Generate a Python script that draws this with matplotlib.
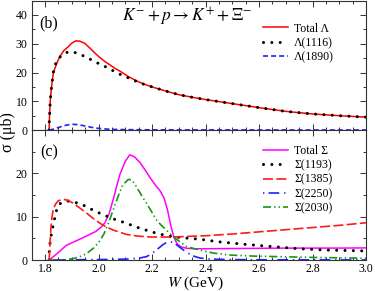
import matplotlib
matplotlib.use("Agg")
import matplotlib.pyplot as plt
from matplotlib.ticker import MultipleLocator

plt.rcParams['font.family'] = ['Liberation Serif', 'DejaVu Serif']
plt.rcParams['mathtext.fontset'] = 'stix'
plt.rcParams['lines.scale_dashes'] = False

# ---- panel (b): Lambda exchange ----
lam_tot_w = [1.815, 1.8165, 1.818, 1.82, 1.823, 1.827, 1.831, 1.837, 1.845, 1.855, 1.87,
             1.887, 1.90, 1.915, 1.93, 1.949, 1.97, 1.987, 2.005, 2.024, 2.045, 2.061,
             2.085, 2.111, 2.14, 2.169, 2.2, 2.25, 2.3, 2.35, 2.4, 2.5, 2.6, 2.7, 2.8, 2.9, 3.0]
lam_tot = [0, 4.4, 7.6, 10.8, 13.9, 17.1, 19.8, 21.5, 23.5, 25.5, 27.6,
           29.0, 30.2, 31.0, 30.9, 30.1, 28.3, 26.7, 25.2, 23.8, 22.5, 21.5,
           20.2, 18.6, 17.2, 16.0, 15.0, 13.6, 12.3, 11.4, 10.6, 9.2, 7.8, 6.5, 5.6, 5.0, 4.5]

lam1116_w = [1.815, 1.8165, 1.818, 1.82, 1.823, 1.827, 1.831, 1.837, 1.845, 1.86, 1.875,
             1.89, 1.905, 1.925, 1.955, 1.987, 2.018, 2.049, 2.077, 2.11, 2.14, 2.17,
             2.2, 2.25, 2.3, 2.35, 2.4, 2.5, 2.6, 2.7, 2.8, 2.9, 3.0]
lam1116 = [0, 4.4, 7.6, 10.8, 13.9, 17.1, 20.1, 22.5, 24.2, 25.8, 26.8,
           27.2, 27.1, 26.6, 25.3, 23.7, 22.4, 20.9, 19.5, 18.2, 17.0, 15.9,
           15.0, 13.6, 12.3, 11.4, 10.6, 9.2, 7.8, 6.5, 5.6, 5.0, 4.5]

lam1890_w = [1.815, 1.83, 1.85, 1.87, 1.89, 1.905, 1.92, 1.94, 1.96, 1.98, 2.0,
             2.03, 2.06, 2.1, 2.2, 2.4, 2.6, 2.8, 3.0]
lam1890 = [0, 0.3, 0.9, 1.5, 1.9, 2.0, 1.9, 1.6, 1.2, 0.85, 0.6,
           0.35, 0.22, 0.15, 0.08, 0.05, 0.04, 0.03, 0.03]

# ---- panel (c): Sigma exchange ----
sig_tot_w = [1.815, 1.83, 1.845, 1.88, 1.94, 1.99, 2.01, 2.024, 2.04, 2.055, 2.067, 2.08,
             2.10, 2.117, 2.135, 2.155, 2.175, 2.195, 2.215, 2.23, 2.245, 2.258, 2.27,
             2.282, 2.295, 2.31, 2.33, 2.36, 2.4, 2.5, 2.6, 2.7, 2.8, 2.9, 3.0]
sig_tot = [0, 0.7, 1.5, 3.4, 5.1, 6.6, 7.6, 8.6, 10.8, 14.0, 16.9, 19.8,
           22.8, 24.3, 23.8, 22.5, 20.7, 18.8, 17.1, 16.0, 14.3, 11.5, 8.0,
           5.2, 3.6, 3.0, 2.7, 2.6, 2.6, 2.65, 2.7, 2.75, 2.75, 2.75, 2.8]

sig1193_w = [1.815, 1.816, 1.821, 1.827, 1.834, 1.84, 1.853, 1.87, 1.887, 1.918, 1.949,
             1.98, 2.012, 2.043, 2.073, 2.105, 2.136, 2.167, 2.198, 2.235, 2.266, 2.304,
             2.341, 2.378, 2.45, 2.55, 2.65, 2.75, 2.85, 3.0]
sig1193 = [0, 2.7, 5.0, 7.1, 9.0, 11.0, 12.9, 13.5, 13.6, 13.2, 12.5,
           11.5, 10.6, 9.8, 9.1, 8.5, 7.7, 7.1, 6.5, 5.9, 5.5, 5.2,
           5.0, 4.8, 4.2, 3.6, 3.1, 2.6, 2.3, 2.1]

sig1385_w = [1.815, 1.817, 1.819, 1.822, 1.826, 1.831, 1.84, 1.85, 1.868, 1.885, 1.906,
             1.93, 1.956, 1.98, 2.005, 2.03, 2.055, 2.105, 2.15, 2.2, 2.25, 2.3, 2.35,
             2.4, 2.5, 2.6, 2.7, 2.8, 2.9, 3.0]
sig1385 = [0, 2.0, 4.5, 7.5, 10.0, 11.8, 13.0, 13.7, 14.0, 13.8, 13.1,
           12.0, 10.8, 9.6, 8.5, 7.6, 6.9, 5.9, 5.5, 5.3, 5.3, 5.35, 5.5,
           5.6, 6.0, 6.5, 7.0, 7.5, 8.0, 8.6]

sig2250_w = [1.815, 1.9, 2.0, 2.1, 2.15, 2.18, 2.2, 2.22, 2.24, 2.255, 2.27, 2.285,
             2.30, 2.32, 2.34, 2.36, 2.38, 2.42, 2.5, 2.6, 2.8, 3.0]
sig2250 = [0, 0.05, 0.1, 0.2, 0.4, 0.8, 1.5, 2.5, 3.5, 4.1, 4.2, 3.9,
           3.1, 2.2, 1.4, 0.8, 0.45, 0.2, 0.1, 0.05, 0.03, 0.02]

sig2030_w = [1.815, 1.88, 1.91, 1.935, 1.956, 1.98, 2.0, 2.02, 2.04, 2.06, 2.075,
             2.09, 2.111, 2.125, 2.142, 2.16, 2.179, 2.2, 2.217, 2.235, 2.254, 2.279,
             2.3, 2.329, 2.378, 2.43, 2.49, 2.58, 2.677, 2.8, 2.9, 3.0]
sig2030 = [0, 0.05, 0.4, 0.9, 1.5, 2.7, 4.0, 6.0, 9.0, 12.5, 15.0,
           17.3, 18.6, 18.5, 16.9, 15.0, 13.1, 11.0, 9.2, 8.0, 6.9, 5.4,
           4.4, 3.1, 2.3, 1.6, 1.15, 0.9, 0.77, 0.6, 0.5, 0.4]

dotted = (0, (0.01, 6.0))
dashed_short = (0, (3.6, 2.2))
dashed_long = (0, (7.2, 2.4))
dash_dot = (0, (1.0, 3.0, 7.7, 3.5))
dash_dot_dot = (0, (5.8, 2.2, 1.0, 2.2, 1.0, 2.2))


def style_axes(ax, ymax):
    ax.set_xlim(1.75, 3.0)
    ax.set_ylim(0, ymax)
    ax.xaxis.set_major_locator(MultipleLocator(0.2))
    ax.xaxis.set_minor_locator(MultipleLocator(0.05))
    ax.yaxis.set_major_locator(MultipleLocator(10))
    ax.yaxis.set_minor_locator(MultipleLocator(5))
    ax.tick_params(which='both', direction='in', top=True, right=True,
                   labelsize=8.5, width=0.7, color='#333333')
    ax.tick_params(which='major', length=4, pad=3)
    ax.tick_params(axis='x', which='major', pad=2.5)
    ax.tick_params(which='minor', length=2.2)
    for sp in ax.spines.values():
        sp.set_linewidth(0.8)
        sp.set_color('#333333')


fig = plt.figure(figsize=(3.75, 2.91), dpi=100)
ax1 = fig.add_axes([0.0845, 0.553, 0.8915, 0.445])
ax2 = fig.add_axes([0.0845, 0.1065, 0.8915, 0.4465])

ax1.plot(lam_tot_w, lam_tot, color='#ff0000', lw=1.1, label='Total Λ')
ax1.plot(lam1116_w, lam1116, color='black', lw=2.2, ls=dotted,
         dash_capstyle='round', label='Λ(1116)')
ax1.plot(lam1890_w, lam1890, color='#1f1fff', lw=1.2, ls=dashed_short, label='Λ(1890)')
style_axes(ax1, 45)
ax1.tick_params(labelbottom=False)
ax1.text(0.022, 0.827, '(b)', transform=ax1.transAxes, fontsize=11.5, va='center')
ax1.text(0.466, 0.873, r'$K^{-} + p \rightarrow K^{+} + \Xi^{-}$', transform=ax1.transAxes,
         fontsize=12.5, ha='center', va='center')
ax1.legend(loc='upper left', bbox_to_anchor=(0.693, 0.83), frameon=False, fontsize=8.5,
           handlelength=2.05, handletextpad=0.55, labelspacing=0.2,
           borderpad=0, borderaxespad=0)

ax2.plot(sig_tot_w, sig_tot, color='#ff00ff', lw=1.1, label='Total Σ')
ax2.plot(sig1193_w, sig1193, color='black', lw=2.2, ls=dotted,
         dash_capstyle='round', label='Σ(1193)')
ax2.plot(sig1385_w, sig1385, color='#ff1a1a', lw=1.2, ls=dashed_long, label='Σ(1385)')
ax2.plot(sig2250_w, sig2250, color='#1f1fff', lw=1.2, ls=dash_dot, label='Σ(2250)')
ax2.plot(sig2030_w, sig2030, color='#119911', lw=1.2, ls=dash_dot_dot, label='Σ(2030)')
style_axes(ax2, 30)
ax2.set_yticks([0, 10, 20])
ax2.text(0.025, 0.83, '(c)', transform=ax2.transAxes, fontsize=11.5, va='center')
ax2.legend(loc='upper left', bbox_to_anchor=(0.693, 0.885), frameon=False, fontsize=8.5,
           handlelength=2.05, handletextpad=0.55, labelspacing=0.2,
           borderpad=0, borderaxespad=0)

fig.text(0.52, 0.013, r'$W$ (GeV)', fontsize=11, ha='center', va='baseline')
fig.text(0.022, 0.546, 'σ (μb)', fontsize=11.5, rotation=90, ha='center', va='center')

fig.savefig('out.png', dpi=100)
